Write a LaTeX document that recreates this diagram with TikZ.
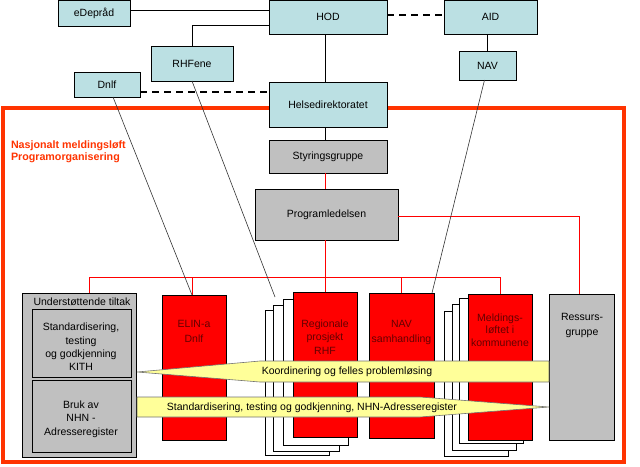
\documentclass[tikz,border=0pt]{standalone}
\usepackage{fontspec}
\setmainfont{Liberation Sans}
\definecolor{lblue}{RGB}{187,224,227}
\definecolor{boxgray}{RGB}{192,192,192}
\definecolor{framered}{RGB}{255,51,0}
\definecolor{bannery}{RGB}{255,255,153}
\definecolor{boxtext}{RGB}{100,0,0}
\newcommand{\diagfont}{\fontsize{10.5}{13.3}\selectfont}
\begin{document}
\begin{tikzpicture}[x=1pt,y=-1pt,
  every node/.style={inner sep=0pt, outer sep=0pt},
  bluebox/.style={draw=black, line width=0.8pt, fill=lblue, font=\diagfont},
  graybox/.style={draw=black, line width=0.8pt, fill=boxgray, font=\diagfont},
  redbox/.style={draw=black, line width=0.8pt, fill=red},
  pagebox/.style={draw=black, line width=0.8pt, fill=white},
  lbl/.style={font=\diagfont, align=center},
  redlbl/.style={font=\diagfont, align=center, text=boxtext},
  conn/.style={draw=black, line width=0.7pt},
  redconn/.style={draw=red, line width=0.8pt},
  dashconn/.style={draw=black, line width=2pt, dash pattern=on 7pt off 5pt},
  diag/.style={draw=black!80, line width=0.6pt},
  bannershape/.style={fill=bannery, draw=black!55, line width=0.6pt}
]
\useasboundingbox (0,0) rectangle (640,466);

% frame
\node[draw=framered, line width=4pt, minimum width=621pt, minimum height=354pt] (frame) at (313.5,285) {};
\node[anchor=west, align=left, font=\fontsize{10.7}{12}\selectfont\bfseries, text=framered] (title) at (11,152) {Nasjonalt meldingsløft\\Programorganisering};

% top boxes
\node[bluebox, minimum width=72pt, minimum height=26pt] (edep) at (94,13) {eDepråd};
\node[bluebox, minimum width=118pt, minimum height=34pt] (hod) at (328,17) {HOD};
\node[bluebox, minimum width=93pt, minimum height=34pt] (aid) at (490.5,17) {AID};
\node[bluebox, minimum width=57pt, minimum height=29pt] (nav) at (487.5,65.5) {NAV};
\node[bluebox, minimum width=82pt, minimum height=35pt] (rhf) at (192,63.5) {RHFene};
\node[bluebox, minimum width=66pt, minimum height=25pt] (dnlf) at (107,84.5) {Dnlf};
\node[bluebox, minimum width=118pt, minimum height=45pt] (hdir) at (328,104.5) {Helsedirektoratet};
\node[graybox, minimum width=118pt, minimum height=33pt] (styr) at (328,156.5) {Styringsgruppe};
\node[graybox, minimum width=143pt, minimum height=51pt] (prog) at (326.5,214.5) {Programledelsen};

% supporting measures
\node[graybox, minimum width=114pt, minimum height=164pt] (uts) at (79,375) {};
\node[lbl] (utslbl) at (82,302) {Understøttende tiltak};
\node[graybox, minimum width=99pt, minimum height=68pt] (std) at (81.5,343) {};
\node[lbl] (stdlbl) at (81,347) {Standardisering,\\testing\\og godkjenning\\KITH};
\node[graybox, minimum width=99pt, minimum height=72pt] (nhn) at (81.5,416) {};
\node[lbl] (nhnlbl) at (81,419) {Bruk av\\NHN -\\Adresseregister};

% projects
\node[redbox, minimum width=64pt, minimum height=145pt] (elin) at (194,367.5) {};
\node[redlbl] (elinlbl) at (194,331) {ELIN-a\\[1.7pt]Dnlf};

\node[pagebox, minimum width=64pt, minimum height=145pt] (p1) at (297,382.5) {};
\node[pagebox, minimum width=66pt, minimum height=146pt] (p2) at (306,378) {};
\node[pagebox, minimum width=65pt, minimum height=146pt] (p3) at (315.5,372) {};
\node[redbox, minimum width=64pt, minimum height=145pt] (rhfp) at (325,364.5) {};
\node[redlbl] (rhfplbl) at (325,337) {Regionale\\prosjekt\\RHF};

\node[redbox, minimum width=65pt, minimum height=145pt] (navs) at (401.5,365.5) {};
\node[redlbl] (navslbl) at (401.5,332) {NAV\\[1.7pt]samhandling};

\node[pagebox, minimum width=64pt, minimum height=145pt] (q1) at (476,383.5) {};
\node[pagebox, minimum width=64pt, minimum height=146pt] (q2) at (484,377) {};
\node[pagebox, minimum width=64pt, minimum height=145pt] (q3) at (491,370.5) {};
\node[redbox, minimum width=64pt, minimum height=146pt] (meld) at (500,367) {};
\node[redlbl] (meldlbl) at (500,330) {Meldings-\\[-0.8pt]løftet i\\[-0.8pt]kommunene};

% connectors
\coordinate (bus) at (0,277);
\draw[redconn] ([xshift=-3pt]styr.south) -- ([xshift=-3pt]styr.south |- prog.north);
\draw[redconn] ([xshift=-1.5pt]prog.south) -- ([xshift=-1.5pt]prog.south |- bus);
\draw[redconn] ([xshift=10pt]uts.north) |- (meld.north |- bus) -- (meld.north);
\draw[redconn] ([xshift=-2pt]elin.north) -- ([xshift=-2pt]elin.north |- bus);
\draw[redconn] (rhfp.north) -- (rhfp.north |- bus);
\draw[redconn] (navs.north) -- (navs.north |- bus);

\draw[conn] ([xshift=-3pt]hod.south) -- ([xshift=-3pt]hod.south |- hdir.north);
\draw[conn] ([xshift=-3pt]hdir.south) -- ([xshift=-3pt]hdir.south |- styr.north);
\draw[conn] ([yshift=3pt]edep.east) -- ([yshift=3pt]edep.east -| hod.west);
\draw[conn] (rhf.north) |- ([yshift=-8pt]hod.west);
\draw[conn] (nav.north) -- (nav.north |- aid.south);
\draw[dashconn] ([yshift=2pt]hod.east) -- ([yshift=2pt]hod.east -| aid.west);
\draw[dashconn] ([yshift=-7.5pt]dnlf.east) -- ([yshift=-7.5pt]dnlf.east -| hdir.west);

% resource group
\node[graybox, minimum width=65pt, minimum height=146pt] (ress) at (581.5,367) {};
\node[lbl] (resslbl) at (582,325) {Ressurs-\\[1.7pt]gruppe};
\draw[redconn] ([yshift=-1.5pt]prog.east) -| ([xshift=-2.5pt]ress.north);

\draw[diag] ([xshift=6pt]dnlf.south) -- ([xshift=-2pt]elin.north);
\coordinate (rhfend) at (275,297);
\draw[diag] (rhf.south) -- (rhfend);
\draw[diag] ([xshift=-3pt]nav.south) -- ([xshift=-2pt]navs.north east);

% banners
\path[bannershape] (137,372) -- (260,361) -- (549,361) -- (549,382) -- (260,382) -- cycle;
\node[lbl] (koord) at (347,372) {Koordinering og felles problemløsing};
\path[bannershape] (137,397) -- (420,397) -- (549,407) -- (420,417) -- (137,417) -- cycle;
\node[lbl] (stdb) at (312,407.5) {Standardisering, testing og godkjenning, NHN-Adresseregister};
\end{tikzpicture}
\end{document}
